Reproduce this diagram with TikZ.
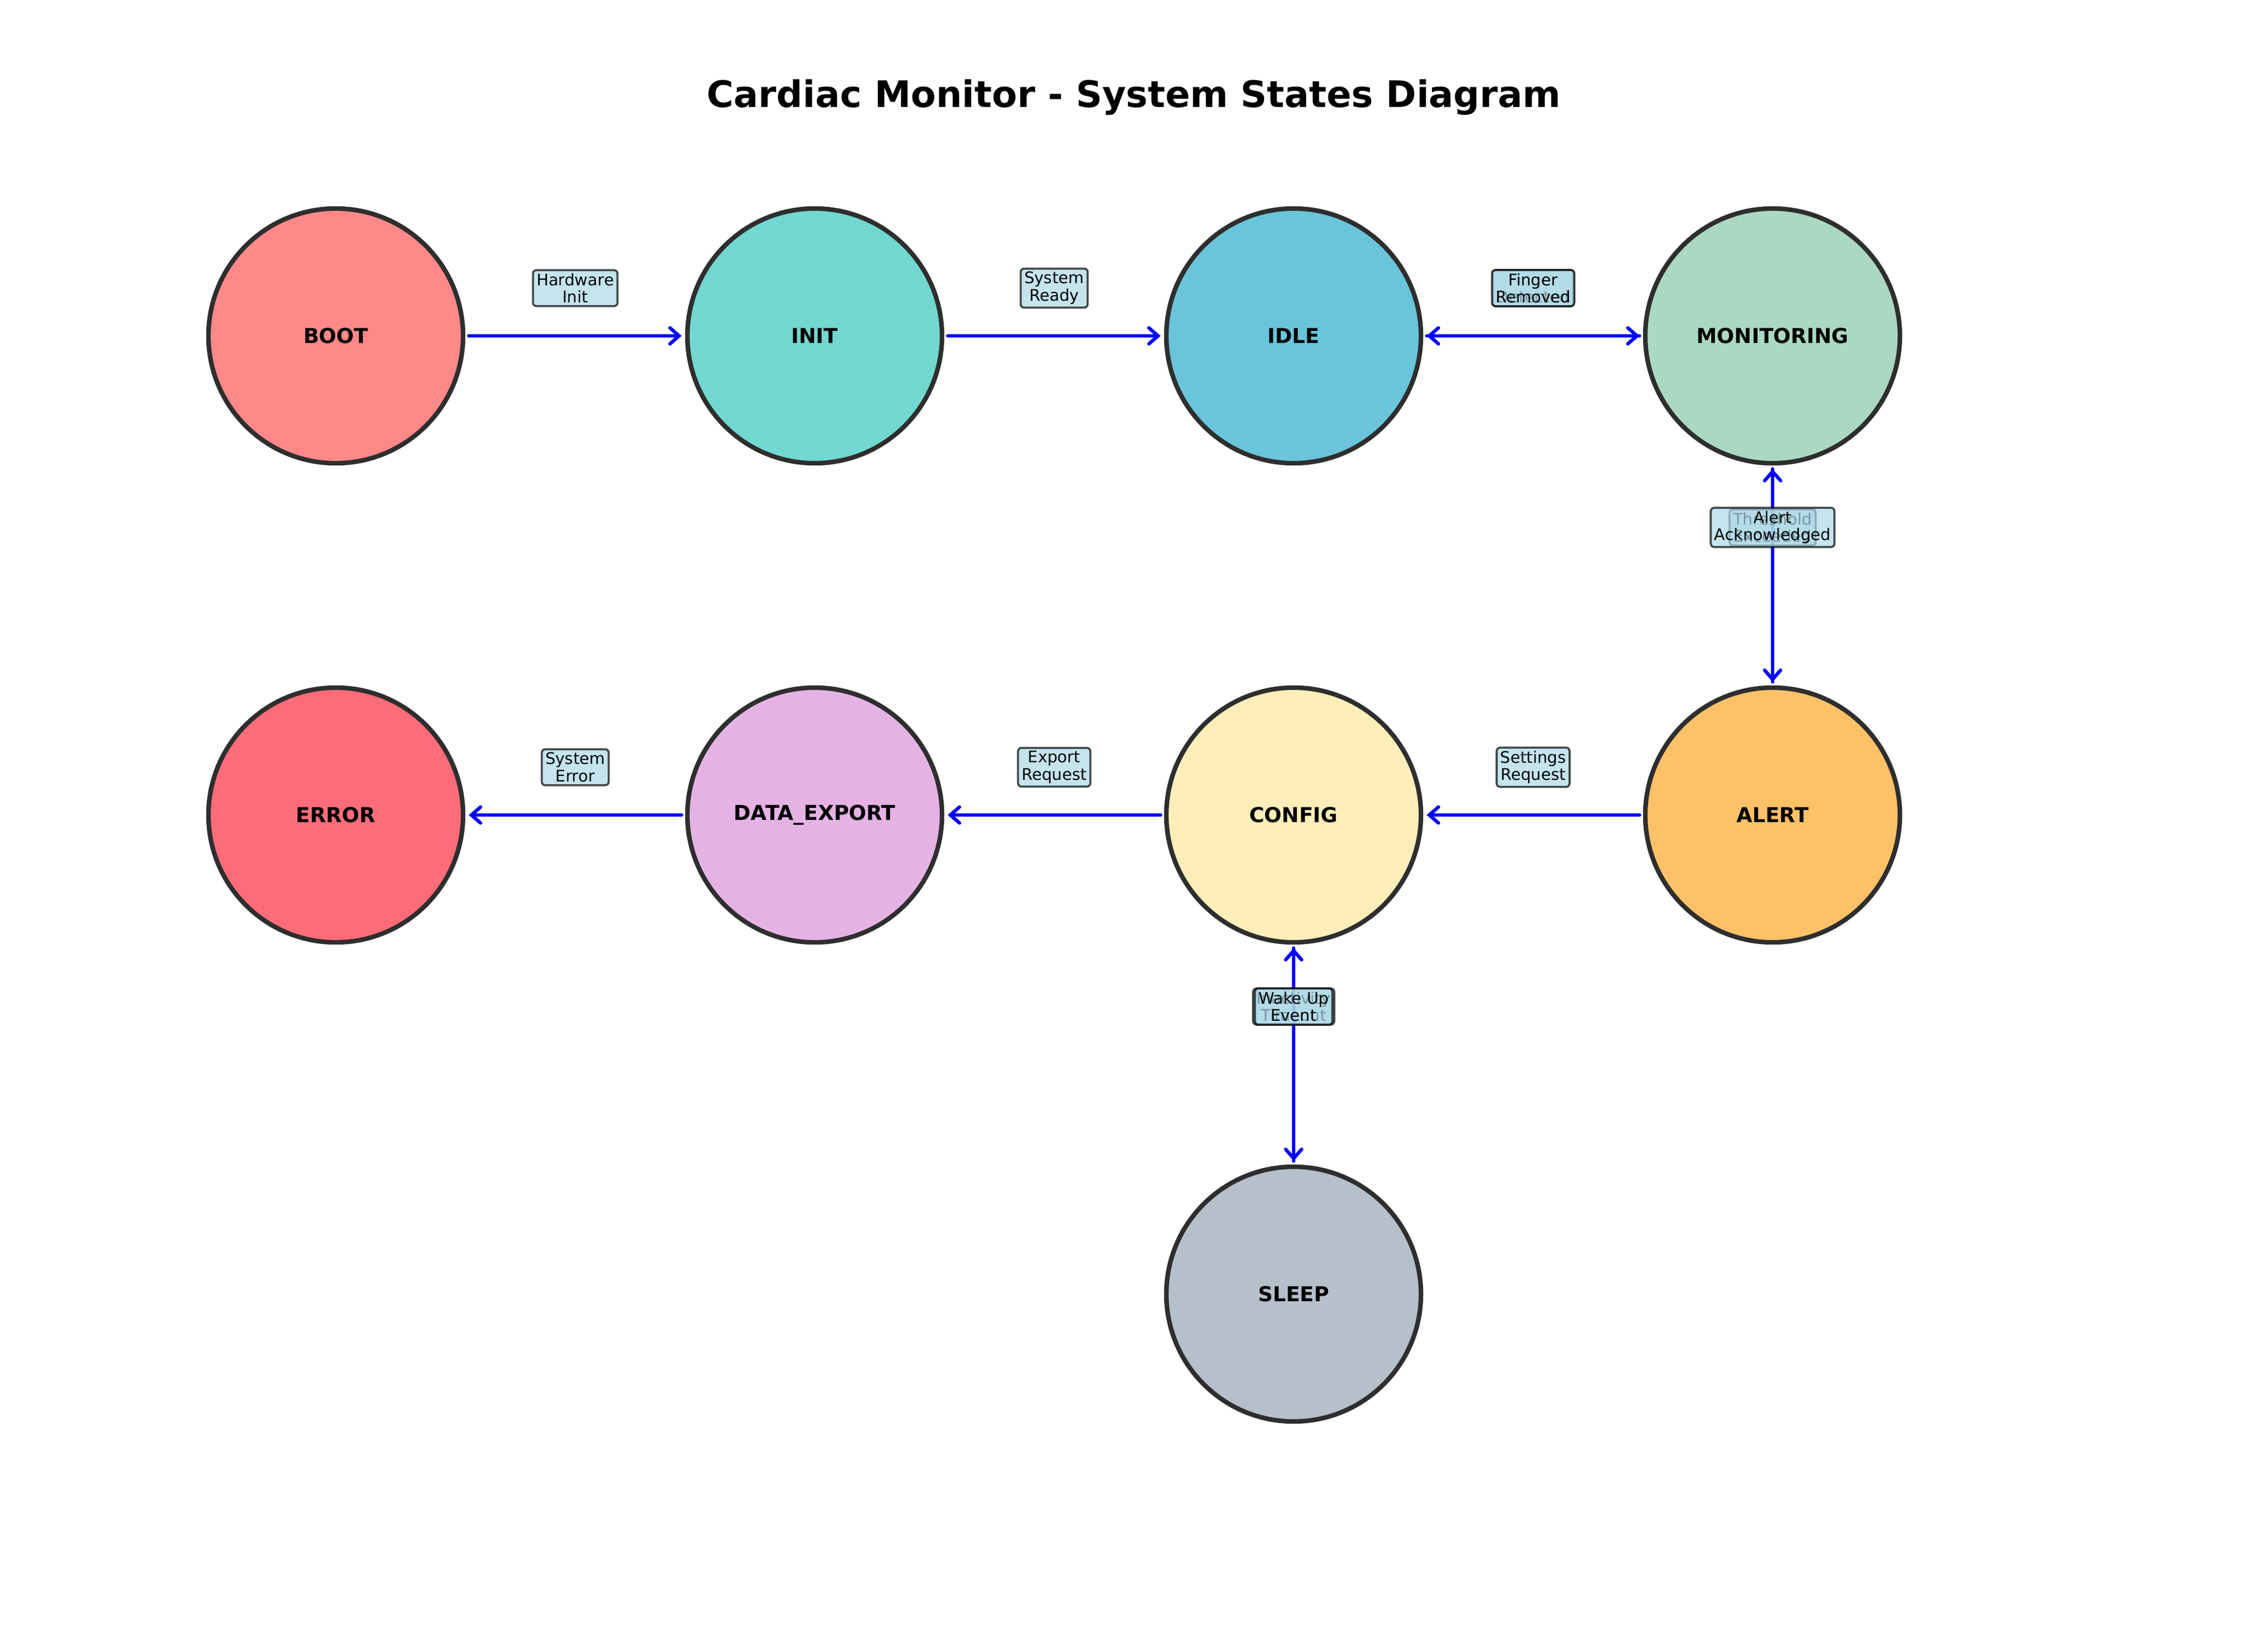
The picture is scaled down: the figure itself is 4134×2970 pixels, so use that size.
\documentclass[tikz,border=0pt]{standalone}
\usepackage{fontspec}
\setmainfont{DejaVu Sans}
\usetikzlibrary{arrows.meta}
\definecolor{cBoot}{HTML}{FF8989}
\definecolor{cInit}{HTML}{71D7D0}
\definecolor{cIdle}{HTML}{6AC5DA}
\definecolor{cMon}{HTML}{ABD8C3}
\definecolor{cAlert}{HTML}{FFC168}
\definecolor{cConfig}{HTML}{FFEEB9}
\definecolor{cExport}{HTML}{E4B3E4}
\definecolor{cError}{HTML}{FF6C79}
\definecolor{cSleep}{HTML}{B6C0CB}
\definecolor{cEdge}{HTML}{2E2E2E}
\definecolor{lblue}{HTML}{ADD8E6}
\begin{document}
\begin{tikzpicture}[x=0.24pt,y=-0.24pt,
  state/.style={circle, minimum size=111.4pt, inner sep=0pt, line width=2pt, draw=cEdge,
    font=\fontsize{9}{11}\selectfont\bfseries},
  trans/.style={draw=blue, line width=1.5pt, line cap=round,
    -{Straight Barb[length=4pt,width=7pt,line cap=round]}, shorten >=1.5pt, shorten <=1.5pt},
  lbl/.style={draw=black, draw opacity=0.7, fill=lblue, fill opacity=0.7, text opacity=1,
    rounded corners=1.5pt, line width=0.9pt, align=center, inner xsep=1.6pt, inner ysep=1.4pt,
    font=\fontsize{7}{7.6}\selectfont},
  ttl/.style={font=\fontsize{16}{19}\selectfont\bfseries, anchor=base}]
\useasboundingbox (0,0) rectangle (4134,2970);

\node[ttl] (title) at (2067,196) {Cardiac Monitor - System States Diagram};

\node[state, fill=cBoot]   (boot)   at (612,612)   {BOOT};
\node[state, fill=cInit]   (init)   at (1485,612)  {INIT};
\node[state, fill=cIdle]   (idle)   at (2358,612)  {IDLE};
\node[state, fill=cMon]    (mon)    at (3231,612)  {MONITORING};
\node[state, fill=cError]  (error)  at (612,1485)  {ERROR};
\node[state, fill=cExport] (export) at (1485,1485) {DATA\_EXPORT};
\node[state, fill=cConfig] (config) at (2358,1485) {CONFIG};
\node[state, fill=cAlert]  (alert)  at (3231,1485) {ALERT};
\node[state, fill=cSleep]  (sleep)  at (2358,2358) {SLEEP};

\draw[trans] (boot) -- (init);
\draw[trans] (init) -- (idle);
\draw[trans] (idle) -- (mon);
\draw[trans] (mon) -- (idle);
\draw[trans] (mon) -- (alert);
\draw[trans] (alert) -- (mon);
\draw[trans] (alert) -- (config);
\draw[trans] (config) -- (export);
\draw[trans] (export) -- (error);
\draw[trans] (config) -- (sleep);
\draw[trans] (sleep) -- (config);

\node[lbl] (l1) at (1048.5,525) {Hardware\\Init};
\node[lbl] (l2) at (1921.5,525) {System\\Ready};
\node[lbl] (l3) at (2794.5,525) {Finger\\Detected};
\node[lbl] (l4) at (2794.5,525) {Finger\\Removed};
\node[lbl] (l5) at (3231,961) {Threshold\\Exceeded};
\node[lbl] (l6) at (3231,961) {Alert\\Acknowledged};
\node[lbl] (l7) at (2794.5,1398) {Settings\\Request};
\node[lbl] (l8) at (1921.5,1398) {Export\\Request};
\node[lbl] (l9) at (1048.5,1398) {System\\Error};
\node[lbl] (l10) at (2358,1834) {Inactivity\\Timeout};
\node[lbl] (l11) at (2358,1834) {Wake Up\\Event};
\end{tikzpicture}
\end{document}
